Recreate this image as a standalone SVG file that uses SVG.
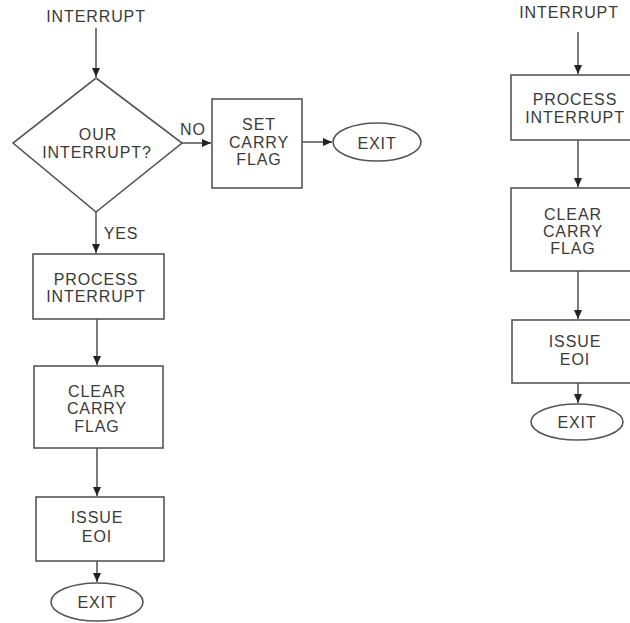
<svg xmlns="http://www.w3.org/2000/svg" width="630" height="623" viewBox="0 0 630 623">
<defs>
<marker id="ah" markerUnits="userSpaceOnUse" markerWidth="10" markerHeight="10" refX="9" refY="4" orient="auto">
<path d="M0,0 L9,4 L0,8 Z" fill="#222"/>
</marker>
<style>
.t{font-family:"Liberation Sans",Arial,sans-serif;font-size:16px;letter-spacing:0.9px;fill:#3a3a3a;text-anchor:middle}
.s{fill:#fff;stroke:#555;stroke-width:1.6}
.c{fill:none;stroke:#444;stroke-width:1.4;marker-end:url(#ah)}
</style>
</defs>
<rect width="630" height="623" fill="#fff"/>
<g id="connectors">
<path class="c" d="M96,28 V77"/>
<path class="c" d="M182,143 H211"/>
<path class="c" d="M302,142 H332"/>
<path class="c" d="M96,212 V253"/>
<path class="c" d="M97,319 V365"/>
<path class="c" d="M97,448 V496"/>
<path class="c" d="M97,561 V582"/>
<path class="c" d="M578,32 V74"/>
<path class="c" d="M578,140 V187"/>
<path class="c" d="M578,271 V319"/>
<path class="c" d="M578,383 V403"/>
</g>
<g id="start-left"><text class="t" x="96" y="22">INTERRUPT</text></g>
<g id="decision">
<path class="s" d="M96,78 L182,143 L96,212 L13,143 Z"/>
<text class="t" x="98" y="140">OUR</text>
<text class="t" x="97" y="158">INTERRUPT?</text>
</g>
<g id="label-no"><text class="t" x="193" y="135">NO</text></g>
<g id="label-yes"><text class="t" x="121" y="239">YES</text></g>
<g id="set-carry">
<rect class="s" x="212" y="99" width="90" height="89"/>
<text class="t" x="259" y="130">SET</text>
<text class="t" x="259" y="148">CARRY</text>
<text class="t" x="259" y="165">FLAG</text>
</g>
<g id="exit-top">
<ellipse class="s" cx="377" cy="142" rx="44" ry="19"/>
<text class="t" x="377" y="149">EXIT</text>
</g>
<g id="process-left">
<rect class="s" x="33" y="254" width="131" height="65"/>
<text class="t" x="96" y="285">PROCESS</text>
<text class="t" x="96" y="302">INTERRUPT</text>
</g>
<g id="clear-left">
<rect class="s" x="34" y="366" width="129" height="82"/>
<text class="t" x="97" y="397">CLEAR</text>
<text class="t" x="97" y="414">CARRY</text>
<text class="t" x="97" y="432">FLAG</text>
</g>
<g id="issue-left">
<rect class="s" x="36" y="497" width="128" height="64"/>
<text class="t" x="97" y="523">ISSUE</text>
<text class="t" x="97" y="542">EOI</text>
</g>
<g id="exit-left">
<ellipse class="s" cx="97" cy="602" rx="46" ry="19"/>
<text class="t" x="97" y="608">EXIT</text>
</g>
<g id="start-right"><text class="t" x="569" y="18">INTERRUPT</text></g>
<g id="process-right">
<rect class="s" x="511" y="75" width="126" height="65"/>
<text class="t" x="575" y="105">PROCESS</text>
<text class="t" x="575" y="123">INTERRUPT</text>
</g>
<g id="clear-right">
<rect class="s" x="511" y="188" width="126" height="83"/>
<text class="t" x="573" y="220">CLEAR</text>
<text class="t" x="573" y="237">CARRY</text>
<text class="t" x="573" y="254">FLAG</text>
</g>
<g id="issue-right">
<rect class="s" x="512" y="320" width="125" height="63"/>
<text class="t" x="575" y="347">ISSUE</text>
<text class="t" x="575" y="365">EOI</text>
</g>
<g id="exit-right">
<ellipse class="s" cx="577" cy="422" rx="46" ry="18"/>
<text class="t" x="577" y="428">EXIT</text>
</g>
</svg>
